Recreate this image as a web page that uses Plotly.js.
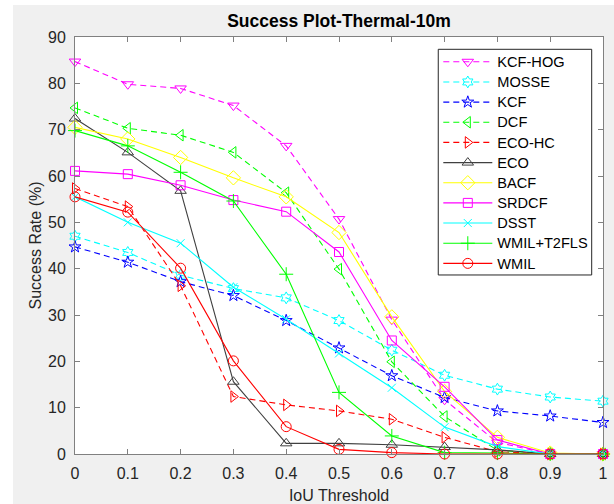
<!DOCTYPE html>
<html>
<head>
<meta charset="utf-8">
<script src="https://cdn.plot.ly/plotly-3.0.1.min.js"></script>
<style>
  html, body { margin: 0; padding: 0; background: #ffffff; width: 614px; height: 504px; overflow: hidden; }
  #chart { position: absolute; left: 13px; top: 5px; width: 601px; height: 499px; }
</style>
</head>
<body>
<div id="chart"></div>
<script>
// IoU thresholds
const thresholds = [0, 0.1, 0.2, 0.3, 0.4, 0.5, 0.6, 0.7, 0.8, 0.9, 1];
const xTickVals = [0, 0.1, 0.2, 0.3, 0.4, 0.5, 0.6, 0.7, 0.8, 0.9, 1];
const xTickText = ["0", "0.1", "0.2", "0.3", "0.4", "0.5", "0.6", "0.7", "0.8", "0.9", "1"];
const yTickVals = [0, 10, 20, 30, 40, 50, 60, 70, 80, 90];

// Success rate (%) per tracker
const kcfHog   = [84.7, 79.8, 78.9, 75.2, 66.5, 50.7, 29.0, 11.7, 2.5, 0, 0];
const mosse    = [47.0, 43.5, 38.6, 35.7, 33.7, 28.8, 22.4, 17.0, 14.0, 12.3, 11.4];
const kcf      = [44.7, 41.4, 37.2, 34.2, 28.8, 22.9, 16.9, 12.2, 9.3, 8.2, 6.8];
const dcf      = [74.7, 70.3, 68.8, 65.1, 56.4, 39.9, 19.9, 8.1, 0.8, 0, 0];
const ecoHc    = [57.3, 53.4, 36.3, 12.4, 10.6, 9.3, 7.5, 3.6, 0.5, 0, 0];
const eco      = [72.4, 65.1, 56.8, 15.6, 2.3, 2.3, 2.0, 1.5, 0.9, 0, 0];
const bacf     = [70.5, 68.0, 64.0, 59.6, 55.5, 47.8, 29.6, 13.5, 3.6, 0.2, 0];
const srdcf    = [61.1, 60.4, 58.0, 54.8, 52.3, 43.6, 24.5, 14.5, 3.0, 0, 0];
const dsst     = [55.5, 50.0, 45.5, 36.0, 29.1, 21.7, 14.3, 5.8, 1.6, 0, 0];
const wmilT2   = [69.8, 66.5, 60.8, 54.6, 38.8, 13.3, 3.9, 0.3, 0.2, 0, 0];
const wmil     = [55.5, 52.2, 40.1, 20.1, 5.9, 1.0, 0.3, 0, 0, 0, 0];

const seriesNames = ["KCF-HOG", "MOSSE", "KCF", "DCF", "ECO-HC", "ECO", "BACF", "SRDCF", "DSST", "WMIL+T2FLS", "WMIL"];
const seriesData = [kcfHog, mosse, kcf, dcf, ecoHc, eco, bacf, srdcf, dsst, wmilT2, wmil];
const seriesColors = ["#ff00ff", "#00ffff", "#0000ff", "#00ff00", "#ff0000", "#404040", "#ffff00", "#ff00ff", "#00ffff", "#00ff00", "#ff0000"];
const seriesDash = ["6px,4px", "6px,4px", "6px,4px", "6px,4px", "6px,4px", "solid", "solid", "solid", "solid", "solid", "solid"];
const seriesSymbols = ["triangle-down-open", "hexagram-open", "star-open", "triangle-left-open", "triangle-right-open",
                       "triangle-up-open", "diamond-open", "square-open", "x-thin-open", "cross-thin-open", "circle-open"];
const seriesSizes = [10, 9, 9, 10, 10, 10, 11, 9, 8, 10, 10];

const traces = seriesNames.map((name, i) => ({
  type: "scatter",
  mode: "lines+markers",
  name: '<span style="font-size:14.6px">' + name + '</span>',
  x: thresholds,
  y: seriesData[i],
  cliponaxis: false,
  line: { color: seriesColors[i], width: 1.1, dash: seriesDash[i] },
  marker: { symbol: seriesSymbols[i], size: seriesSizes[i], color: seriesColors[i], line: { color: seriesColors[i], width: 1 } }
}));

const axisFont = { family: "Liberation Sans, Arial, sans-serif", size: 16, color: "#262626" };

const layout = {
  width: 601,
  height: 499,
  paper_bgcolor: "#f0f0f0",
  plot_bgcolor: "#ffffff",
  margin: { l: 62, r: 11, t: 32, b: 50 },
  showlegend: true,
  title: {
    text: "<b>Success Plot-Thermal-10m</b>",
    font: { family: "Liberation Sans, Arial, sans-serif", size: 17.5, color: "#000000" },
    x: 0.5 * (62 + 590) / 601, xref: "container", xanchor: "center",
    y: 1 - 15.5 / 499, yref: "container", yanchor: "middle"
  },
  xaxis: {
    range: [0, 1],
    tickvals: xTickVals,
    ticktext: xTickText,
    ticks: "inside",
    ticklen: 5,
    tickcolor: "#808080",
    showline: true,
    linecolor: "#808080",
    linewidth: 1,
    mirror: "ticks",
    showgrid: false,
    zeroline: false,
    tickfont: axisFont,
    ticklabelstandoff: 5,
    title: { text: "IoU Threshold", font: axisFont, standoff: 10 }
  },
  yaxis: {
    range: [0, 90],
    tickvals: yTickVals,
    ticks: "inside",
    ticklen: 5,
    tickcolor: "#808080",
    showline: true,
    linecolor: "#808080",
    linewidth: 1,
    mirror: "ticks",
    showgrid: false,
    zeroline: false,
    tickfont: axisFont,
    ticklabelstandoff: 5,
    title: { text: "Success Rate (%)", font: axisFont, standoff: 2 }
  },
  shapes: [{
    type: "rect", xref: "paper", yref: "paper", layer: "above",
    x0: 0.688, x1: 0.9786, y0: 0.4293, y1: 0.9705,
    fillcolor: "#ffffff", line: { color: "#262626", width: 1 }
  }],
  legend: {
    x: (425.3 - 62) / 528,
    y: 1 - (41.7 - 32) / 417,
    xanchor: "left",
    yanchor: "top",
    bgcolor: "rgba(0,0,0,0)",
    borderwidth: 0,
    itemwidth: 49,
    tracegroupgap: 0,
    font: { family: "Liberation Sans, Arial, sans-serif", size: 13.2, color: "#000000" }
  }
};

Plotly.newPlot("chart", traces, layout, { displayModeBar: false, staticPlot: true });
</script>
</body>
</html>
